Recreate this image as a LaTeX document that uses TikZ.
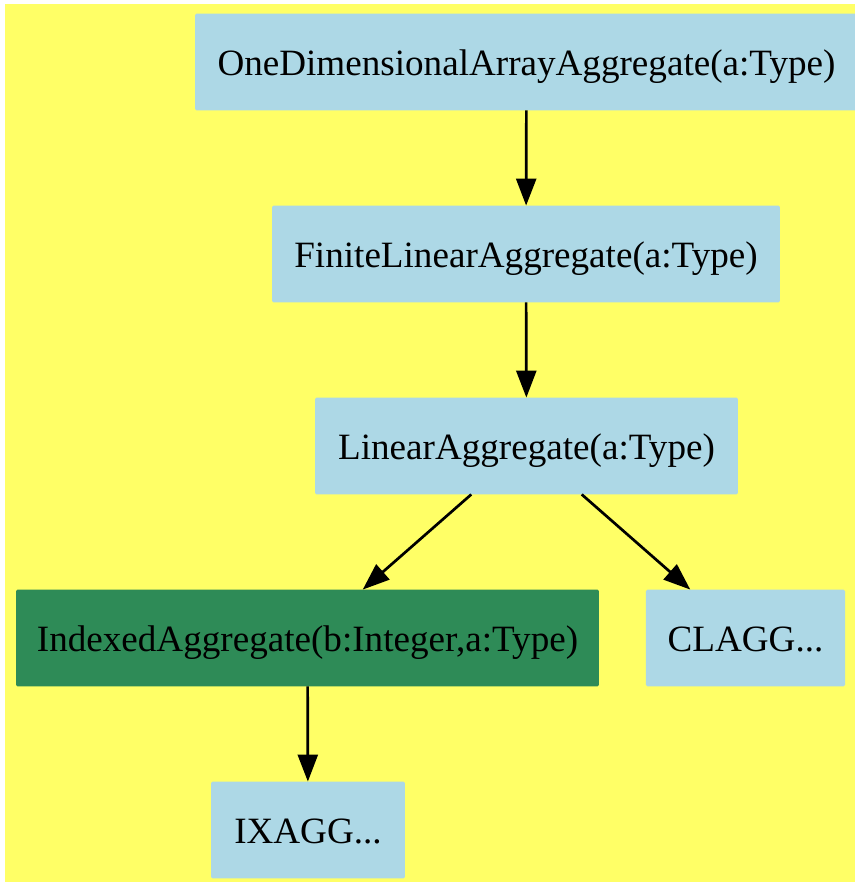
\documentclass[tikz,border=0pt]{standalone}
\usepackage{fontspec}
\setmainfont{Liberation Serif}
\usetikzlibrary{arrows.meta}
\definecolor{BgYellow}{HTML}{FFFF66}
\definecolor{LightBlue}{HTML}{ADD8E6}
\definecolor{SeaGreen}{HTML}{2E8B57}

\begin{document}
\begin{tikzpicture}[x=0.3717pt, y=-0.3717pt, >={Triangle[length=10pt, width=7.4pt]},
    box/.style={rectangle, rounded corners=0.6pt, fill=LightBlue, inner sep=0pt, outer sep=0pt,
        minimum height=36pt, text height=10.3pt, text depth=0pt, font=\fontsize{13.8}{16}\selectfont},
    hilite/.style={box, fill=SeaGreen},
    edge/.style={->, line width=1pt, black}]
    % Canvas and yellow background
    \useasboundingbox (0,0) rectangle (855,882);
    \fill[BgYellow] (5,4) rectangle (855,882);

    % Category nodes
    \node[box, minimum width=246.4pt] (onedim) at (526.5,62) {OneDimensionalArrayAggregate(a:Type)};
    \node[box, minimum width=188.8pt] (finite) at (526,254) {FiniteLinearAggregate(a:Type)};
    \node[box, minimum width=157.2pt] (linear) at (526.5,446) {LinearAggregate(a:Type)};
    \node[hilite, minimum width=216.7pt] (indexed) at (307.5,638) {IndexedAggregate(b:Integer,a:Type)};
    \node[box, minimum width=74pt] (clagg) at (745.5,638) {CLAGG...};
    \node[box, minimum width=72.1pt] (ixagg) at (308,830) {IXAGG...};

    % Edges
    \draw[edge] (onedim) -- (finite);
    \draw[edge] (finite) -- (linear);
    \draw[edge] (linear) -- (indexed);
    \draw[edge] (linear) -- (clagg);
    \draw[edge] (indexed) -- (ixagg);
\end{tikzpicture}
\end{document}
